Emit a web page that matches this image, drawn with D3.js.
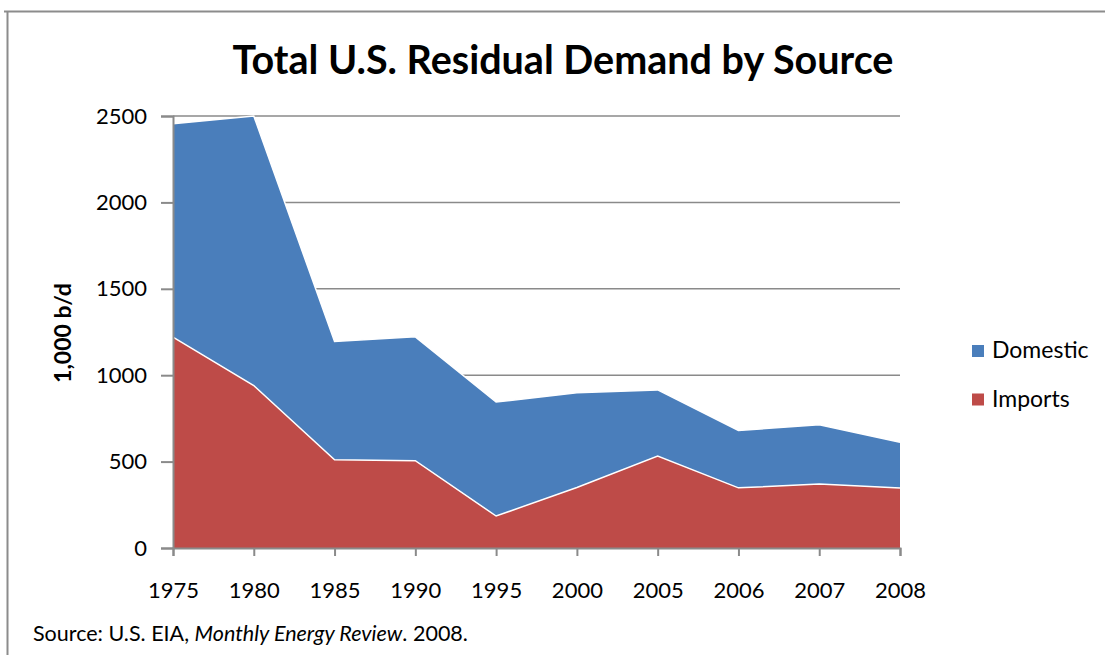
<!DOCTYPE html>
<html>
<head>
<meta charset="utf-8">
<script src="https://cdn.jsdelivr.net/npm/d3@7"></script>
<style>
  body { margin: 0; background: #fff; }
  text { font-family: Lato, "Open Sans", sans-serif; fill: #000; }
</style>
</head>
<body>
<div id="chart"></div>
<script>
// data (1,000 b/d)
const years = ["1975", "1980", "1985", "1990", "1995", "2000", "2005", "2006", "2007", "2008"];
const imports = [1220, 940, 510, 505, 185, 350, 532, 348, 370, 347];
const domestic = [1235, 1560, 685, 717, 660, 548, 383, 332, 343, 265];
const yTicks = [0, 500, 1000, 1500, 2000, 2500];
const seriesNames = ["Imports", "Domestic"];
const colors = {Imports: "#be4b48", Domestic: "#4a7ebb"};

const width = 1105, height = 655;
const margin = {top: 116, left: 173, right: 205, bottom: 107};

const svg = d3.select("#chart").append("svg")
    .attr("width", width)
    .attr("height", height);

// frame lines
svg.append("line").attr("x1", 4).attr("x2", width).attr("y1", 11.5).attr("y2", 11.5)
    .attr("stroke", "#8c8c8c").attr("stroke-width", 2);
svg.append("line").attr("x1", 7.5).attr("x2", 7.5).attr("y1", 11).attr("y2", height)
    .attr("stroke", "#8c8c8c").attr("stroke-width", 2);

const x = d3.scalePoint()
    .domain(years)
    .range([margin.left, width - margin.right]);

const y = d3.scaleLinear()
    .domain([0, 2500])
    .range([height - margin.bottom, margin.top]);

// table for the stack
const table = years.map((yr, i) => ({year: yr, Imports: imports[i], Domestic: domestic[i]}));
const stacked = d3.stack().keys(seriesNames)(table);

// gridlines
svg.append("g")
    .selectAll("line")
    .data(yTicks.filter(d => d > 0))
    .enter()
    .append("line")
    .attr("x1", margin.left)
    .attr("x2", width - margin.right)
    .attr("y1", d => y(d))
    .attr("y2", d => y(d))
    .attr("stroke", "#8a8a8a")
    .attr("stroke-width", 1.5);

const area = d3.area()
    .x(d => x(d.data.year))
    .y0(d => y(d[0]))
    .y1(d => y(d[1]));

const line = d3.line()
    .x(d => x(d.data.year))
    .y(d => y(d[1]));

// areas, domestic drawn first so the imports edge sits on top
svg.append("g")
    .selectAll("path")
    .data(stacked.slice().reverse())
    .enter()
    .append("path")
    .attr("d", area)
    .attr("fill", d => colors[d.key]);

svg.append("g")
    .selectAll("path")
    .data(stacked)
    .enter()
    .append("path")
    .attr("d", line)
    .attr("fill", "none")
    .attr("stroke", "#fff")
    .attr("stroke-width", 1.5);

// y axis
const yAxis = d3.axisLeft(y)
    .tickValues(yTicks)
    .tickSize(12)
    .tickPadding(14)
    .tickFormat(d3.format("d"));

const gy = svg.append("g")
    .attr("transform", `translate(${margin.left},0)`)
    .call(yAxis);
gy.select(".domain").attr("stroke", "#8a8a8a").attr("stroke-width", 2);
gy.selectAll(".tick line").attr("stroke", "#8a8a8a").attr("stroke-width", 2);
gy.selectAll(".tick text")
    .attr("font-size", 22)
    .attr("font-family", "Lato, sans-serif")
    .attr("fill", "#000");

// x axis
const xAxis = d3.axisBottom(x)
    .tickSize(8)
    .tickPadding(26);

const gx = svg.append("g")
    .attr("transform", `translate(0,${height - margin.bottom})`)
    .call(xAxis);
gx.select(".domain").attr("stroke", "#8a8a8a").attr("stroke-width", 2);
gx.selectAll(".tick line").attr("stroke", "#8a8a8a").attr("stroke-width", 2);
gx.selectAll(".tick text")
    .attr("font-size", 22)
    .attr("font-family", "Lato, sans-serif")
    .attr("fill", "#000");

// title
svg.append("text")
    .attr("x", 563)
    .attr("y", 74)
    .attr("text-anchor", "middle")
    .attr("font-size", 39.5)
    .attr("font-weight", "bold")
    .text("Total U.S. Residual Demand by Source");

// y axis title
svg.append("text")
    .attr("transform", "translate(71,333) rotate(-90)")
    .attr("text-anchor", "middle")
    .attr("font-size", 23)
    .attr("font-weight", "bold")
    .text("1,000 b/d");

// legend
const legendItems = ["Domestic", "Imports"];
const legend = svg.append("g")
    .selectAll("g")
    .data(legendItems)
    .enter()
    .append("g")
    .attr("transform", (d, i) => `translate(972,${351 + i * 48.5})`);

legend.append("rect")
    .attr("x", 0)
    .attr("y", -6)
    .attr("width", 12)
    .attr("height", 12)
    .attr("fill", d => colors[d]);

legend.append("text")
    .attr("x", 20)
    .attr("y", 7)
    .attr("font-size", 23)
    .text(d => d);

// source note
const src = svg.append("text")
    .attr("x", 33)
    .attr("y", 641)
    .attr("font-size", 21.5);
src.append("tspan").text("Source: U.S. EIA, ");
src.append("tspan").attr("font-style", "italic").text("Monthly Energy Review");
src.append("tspan").text(". 2008.");
</script>
</body>
</html>
